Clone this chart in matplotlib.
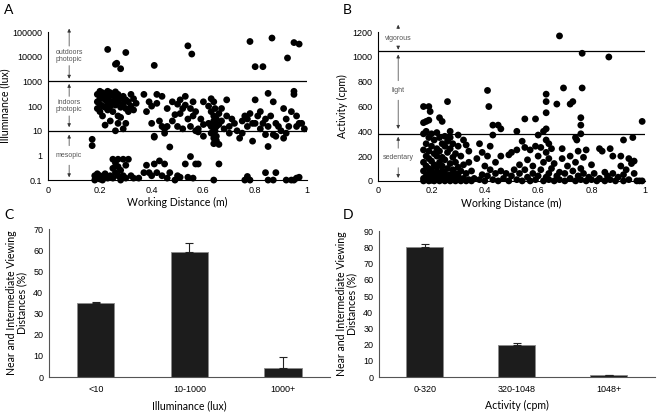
import numpy as np
import matplotlib
matplotlib.use("Agg")
import matplotlib.pyplot as plt

plt.rcParams['font.family'] = ['Liberation Sans', 'DejaVu Sans']

# Panel A: working distance (m) vs illuminance (lux)
illum_x = [0.23, 0.26, 0.265, 0.28, 0.30, 0.41, 0.54, 0.555, 0.78, 0.80, 0.83, 0.865, 0.925, 0.95, 0.97,
           0.19, 0.19, 0.19, 0.20, 0.20, 0.20, 0.20, 0.21, 0.21, 0.21, 0.21, 0.22, 0.22, 0.22, 0.22,
           0.23, 0.23, 0.23, 0.23, 0.24, 0.24, 0.24, 0.24, 0.25, 0.25, 0.25, 0.26, 0.26, 0.26, 0.26,
           0.27, 0.27, 0.27, 0.27, 0.28, 0.28, 0.28, 0.29, 0.29, 0.29, 0.30, 0.30, 0.30, 0.31, 0.31,
           0.32, 0.32, 0.33, 0.33, 0.34,
           0.37, 0.38, 0.39, 0.40, 0.40, 0.41, 0.41, 0.42, 0.42, 0.43, 0.44, 0.44, 0.45, 0.45, 0.46,
           0.46, 0.47, 0.48, 0.48, 0.49, 0.50, 0.50, 0.51, 0.51, 0.52, 0.52, 0.53, 0.53, 0.54, 0.55,
           0.55, 0.56, 0.56, 0.57, 0.57, 0.58, 0.58, 0.59, 0.60, 0.60, 0.60,
           0.62, 0.62, 0.63, 0.63, 0.63, 0.63, 0.64, 0.64, 0.64, 0.64, 0.64, 0.64, 0.645, 0.645, 0.645,
           0.65, 0.65, 0.65, 0.65, 0.66, 0.66, 0.66, 0.67, 0.67, 0.68, 0.69, 0.69, 0.70, 0.70,
           0.71, 0.72, 0.73, 0.74, 0.75, 0.75, 0.76, 0.77, 0.77, 0.78, 0.79, 0.79, 0.80, 0.80, 0.81,
           0.82, 0.82, 0.83, 0.84, 0.84, 0.85, 0.85, 0.85, 0.86, 0.87, 0.87, 0.88, 0.88, 0.89, 0.90,
           0.91, 0.91, 0.92, 0.92, 0.93, 0.94, 0.95, 0.95, 0.96, 0.96, 0.97, 0.98, 0.99,
           0.17, 0.17, 0.18, 0.18, 0.19, 0.19, 0.20, 0.20, 0.21, 0.22, 0.22, 0.23, 0.24, 0.25, 0.25,
           0.25, 0.26, 0.26, 0.27, 0.27, 0.27, 0.28, 0.28, 0.29, 0.29, 0.30, 0.30, 0.31, 0.32, 0.33,
           0.35, 0.37, 0.38, 0.39, 0.40, 0.41, 0.42, 0.43, 0.44, 0.45, 0.46, 0.47, 0.49, 0.50, 0.51,
           0.53, 0.54, 0.55, 0.56, 0.57, 0.58, 0.64, 0.66, 0.76, 0.77, 0.78, 0.84, 0.85, 0.87, 0.88,
           0.92, 0.94, 0.95, 0.96, 0.97]
illum_y = [20000, 5000, 5500, 3300, 15000, 4500, 28000, 13000, 42000, 4000, 4000, 58000, 9000, 38000, 33000,
           300, 150, 80, 400, 200, 120, 60, 350, 250, 100, 40, 300, 180, 90, 17,
           400, 220, 130, 70, 350, 160, 100, 25, 280, 150, 60, 380, 200, 110, 10,
           300, 150, 40, 20, 200, 90, 35, 250, 120, 12, 180, 80, 20, 150, 60,
           300, 100, 200, 70, 130,
           300, 60, 150, 100, 20, 5.5, 6, 300, 130, 25, 250, 15, 8, 12, 80,
           15, 2.2, 150, 25, 45, 120, 15, 180, 50, 80, 12, 250, 110, 30, 80,
           15, 150, 40, 60, 10, 9, 12, 30, 6, 18, 150,
           100, 20, 200, 60, 15, 8, 150, 40, 25, 12, 5, 3, 80, 20, 10,
           30, 15, 6, 4, 50, 18, 2.8, 80, 25, 12, 180, 40, 15, 8,
           30, 20, 10, 5, 25, 8, 40, 30, 15, 50, 20, 3.8, 180, 20, 40,
           60, 12, 20, 30, 7, 330, 2.3, 15, 40, 7, 150, 6, 20, 15, 10,
           5, 80, 8, 30, 15, 60, 400, 300, 40, 15, 20, 20, 12,
           4.5, 2.5, 0.15, 0.1, 0.12, 0.18, 0.11, 0.15, 0.1, 0.13, 0.18, 0.12, 0.15, 0.7, 0.3,
           0.12, 0.5, 0.2, 0.35, 0.15, 0.7, 0.25, 0.1, 0.7, 0.15, 0.4, 0.12, 0.7, 0.15, 0.12,
           0.12, 0.2, 0.4, 0.2, 0.15, 0.45, 0.2, 0.6, 0.15, 0.45, 0.12, 0.2, 0.1, 0.15, 0.13,
           0.45, 0.13, 0.9, 0.12, 0.45, 0.45, 0.1, 0.45, 0.1, 0.14, 0.1, 0.2, 0.1, 0.1, 0.2,
           0.1, 0.1, 0.1, 0.12, 0.13]

# Panel B: working distance (m) vs activity (cpm)
act_x = [0.68, 0.765, 0.865, 0.41, 0.415, 0.26, 0.63, 0.63, 0.63, 0.67, 0.695, 0.72, 0.73, 0.765,
         0.76, 0.76, 0.76, 0.99, 0.55, 0.59, 0.43, 0.45, 0.46, 0.52, 0.17, 0.19, 0.195, 0.18, 0.19,
         0.23, 0.24, 0.27, 0.92, 0.955, 0.74, 0.745,
         0.17, 0.17, 0.17, 0.17, 0.17, 0.17, 0.17, 0.18, 0.18, 0.18, 0.18, 0.18, 0.18,
         0.19, 0.19, 0.19, 0.19, 0.19, 0.19, 0.20, 0.20, 0.20, 0.20, 0.20, 0.20,
         0.21, 0.21, 0.21, 0.21, 0.21, 0.22, 0.22, 0.22, 0.22, 0.22, 0.22,
         0.23, 0.23, 0.23, 0.23, 0.23, 0.24, 0.24, 0.24, 0.24, 0.24,
         0.25, 0.25, 0.25, 0.25, 0.25, 0.25, 0.26, 0.26, 0.26, 0.26,
         0.27, 0.27, 0.27, 0.27, 0.27, 0.28, 0.28, 0.28, 0.28, 0.29, 0.29, 0.29, 0.29,
         0.30, 0.30, 0.30, 0.30, 0.30, 0.31, 0.31, 0.31, 0.32, 0.32, 0.32, 0.33, 0.33, 0.33,
         0.34, 0.34, 0.34, 0.35, 0.35,
         0.36, 0.37, 0.38, 0.38, 0.39, 0.39, 0.40, 0.40, 0.41, 0.41, 0.42, 0.42, 0.43, 0.43,
         0.44, 0.44, 0.45, 0.46, 0.46, 0.47, 0.48, 0.49, 0.49, 0.50, 0.50, 0.51, 0.52, 0.52,
         0.53, 0.53, 0.54, 0.54, 0.55, 0.55, 0.56, 0.56, 0.57, 0.57, 0.58, 0.58, 0.59, 0.59,
         0.60, 0.60, 0.60,
         0.61, 0.61, 0.62, 0.62, 0.62, 0.63, 0.63, 0.63, 0.63, 0.64, 0.64, 0.64, 0.64, 0.65,
         0.65, 0.66, 0.66, 0.67, 0.68, 0.68, 0.69, 0.69, 0.70, 0.70, 0.71, 0.72, 0.72, 0.73,
         0.74, 0.74, 0.75, 0.75, 0.76, 0.76, 0.77, 0.77, 0.78, 0.78, 0.79, 0.80, 0.80, 0.81,
         0.82, 0.83, 0.83, 0.84, 0.85, 0.85, 0.86, 0.87, 0.87, 0.88, 0.88, 0.89, 0.90, 0.91,
         0.91, 0.92, 0.92, 0.93, 0.94, 0.94, 0.95, 0.96, 0.96, 0.97, 0.98, 0.99]
act_y = [1170, 1030, 1000, 730, 600, 640, 700, 640, 550, 620, 750, 620, 640, 750,
         510, 450, 380, 480, 500, 500, 450, 450, 420, 400, 600, 600, 560, 480, 490,
         510, 480, 400, 330, 350, 350, 330,
         0, 20, 80, 150, 250, 380, 470, 10, 40, 120, 200, 300, 400,
         0, 60, 100, 180, 240, 350, 5, 30, 90, 160, 280, 380,
         0, 50, 130, 220, 330, 10, 70, 110, 200, 260, 390,
         0, 40, 150, 240, 350, 15, 80, 120, 190, 300,
         0, 30, 60, 170, 280, 360, 10, 100, 230, 320,
         0, 50, 140, 260, 350, 20, 90, 190, 300, 0, 60, 150, 220,
         10, 40, 110, 280, 370, 0, 80, 200, 20, 130, 330, 0, 60, 290,
         10, 150, 240, 0, 80,
         20, 180, 10, 300, 50, 230, 0, 120, 200, 40, 280, 90, 10, 370,
         150, 60, 0, 80, 200, 20, 60, 0, 210, 40, 230, 90, 10, 250,
         60, 130, 0, 320, 270, 90, 30, 170, 0, 250, 120, 60, 280, 10,
         40, 200, 370,
         90, 270, 0, 150, 400, 30, 330, 420, 230, 60, 180, 300, 10, 100,
         260, 0, 140, 40, 70, 10, 180, 260, 0, 60, 120, 20, 200, 80,
         0, 150, 40, 240, 10, 100, 190, 60, 250, 0, 30, 130, 10, 60,
         0, 260, 20, 240, 70, 0, 40, 260, 10, 200, 60, 0, 30, 200,
         120, 50, 0, 90, 180, 10, 140, 60, 160, 0, 0, 0]

# Panels C and D: percent of near/intermediate viewing distances
lux_cats = ['<10', '10-1000', '1000+']
lux_pct = [35, 59, 4.5]
lux_err = [0.5, 4.5, 5]
cpm_cats = ['0-320', '320-1048', '1048+']
cpm_pct = [80, 19.5, 1]
cpm_err = [2, 1.5, 0.3]

label_font = ['Lato', 'DejaVu Sans']
tick_size = 6.5
label_size = 7.6
note_color = '#555555'

fig = plt.figure(figsize=(6.6, 4.13), dpi=100)
axA = fig.add_axes([0.073, 0.564, 0.392, 0.358])
axB = fig.add_axes([0.573, 0.562, 0.404, 0.360])
axC = fig.add_axes([0.074, 0.087, 0.426, 0.358])
axD = fig.add_axes([0.574, 0.087, 0.418, 0.353])


def note(ax, x, y, text, top, bottom):
    ax.text(x, y, text, ha='center', va='center', fontsize=5, color=note_color,
            linespacing=1.0)
    ax.annotate('', xy=(x, top), xytext=(x, y), annotation_clip=False,
                arrowprops=dict(arrowstyle='-|>', color='#333333', lw=0.5,
                                mutation_scale=5, shrinkA=7, shrinkB=0))
    ax.annotate('', xy=(x, bottom), xytext=(x, y), annotation_clip=False,
                arrowprops=dict(arrowstyle='-|>', color='#333333', lw=0.5,
                                mutation_scale=5, shrinkA=7, shrinkB=0))


def style_scatter(ax):
    for s in ['top', 'right']:
        ax.spines[s].set_visible(False)
    for s in ['left', 'bottom']:
        ax.spines[s].set_linewidth(0.8)
    ax.tick_params(labelsize=tick_size, length=0, pad=4)
    ax.set_xlim(0, 1)
    ax.set_xticks([0, 0.2, 0.4, 0.6, 0.8, 1])
    ax.set_xticklabels(['0', '0.2', '0.4', '0.6', '0.8', '1'])
    ax.set_xlabel('Working Distance (m)', fontsize=label_size, family=label_font, labelpad=2)


# A
axA.scatter(illum_x, illum_y, s=24, color='black', edgecolors='none', clip_on=False, zorder=3)
axA.set_yscale('log')
axA.set_ylim(0.1, 100000)
axA.set_yticks([0.1, 1, 10, 100, 1000, 10000, 100000])
axA.set_yticklabels(['0.1', '1', '10', '100', '1000', '10000', '100000'])
axA.minorticks_off()
axA.axhline(1000, color='black', lw=0.9)
axA.axhline(10, color='black', lw=0.9)
style_scatter(axA)
axA.set_ylabel('Illuminance (lux)', fontsize=label_size, family=label_font, labelpad=2)
note(axA, 0.081, 11000, 'outdoors\nphotopic', 140000, 1300)
note(axA, 0.081, 100, 'indoors\nphotopic', 800, 14)
note(axA, 0.081, 1.0, 'mesopic', 7, 0.13)

# B
axB.scatter(act_x, act_y, s=24, color='black', edgecolors='none', clip_on=False, zorder=3)
axB.set_ylim(0, 1200)
axB.set_yticks(range(0, 1201, 200))
axB.axhline(1048, color='black', lw=0.9)
axB.axhline(380, color='black', lw=0.9)
style_scatter(axB)
axB.set_ylabel('Activity (cpm)', fontsize=label_size, family=label_font, labelpad=3)
note(axB, 0.075, 1150, 'vigorous', 1260, 1060)
note(axB, 0.075, 730, 'light', 1020, 420)
note(axB, 0.075, 185, 'sedentary', 356, 24)


def style_bars(ax, cats, vals, errs, ymax, xlabel):
    pos = np.arange(len(cats))
    ax.bar(pos, vals, width=0.4, color='#1c1c1c', edgecolor='#8a8a8a', lw=0.6, zorder=2)
    ax.errorbar(pos, vals, yerr=[np.zeros(len(errs)), errs], fmt='none', ecolor='#222222',
                elinewidth=0.8, capsize=3, capthick=0.8, zorder=3)
    ax.set_xlim(-0.5, 2.5)
    ax.set_ylim(0, ymax)
    ax.set_yticks(range(0, ymax + 1, 10))
    ax.set_xticks(pos)
    ax.set_xticklabels(cats)
    for s in ['top', 'right']:
        ax.spines[s].set_visible(False)
    for s in ['left', 'bottom']:
        ax.spines[s].set_color('#555555')
        ax.spines[s].set_linewidth(0.8)
    ax.tick_params(labelsize=tick_size, length=0, pad=4)
    ax.tick_params(axis='x', pad=6)
    ax.set_xlabel(xlabel, fontsize=label_size, family=label_font, labelpad=4)
    ax.set_ylabel('Near and Intermediate Viewing\nDistances (%)', fontsize=label_size,
                  family=label_font, labelpad=4, linespacing=1.0)


style_bars(axC, lux_cats, lux_pct, lux_err, 70, 'Illuminance (lux)')
style_bars(axD, cpm_cats, cpm_pct, cpm_err, 90, 'Activity (cpm)')

for letter, (x, y) in zip('ABCD', [(0.006, 0.99), (0.52, 0.99), (0.006, 0.495), (0.52, 0.495)]):
    fig.text(x, y, letter, fontsize=10, family=label_font, va='top', ha='left')

fig.savefig('out.png', dpi=100)
